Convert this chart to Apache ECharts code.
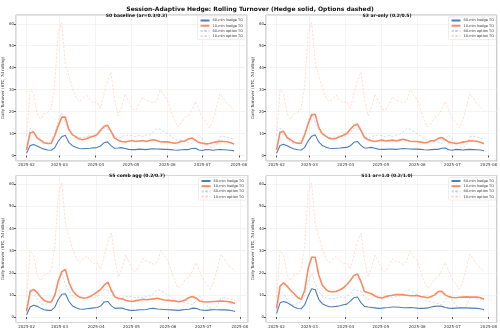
<!DOCTYPE html>
<html>
<head>
<meta charset="utf-8">
<script src="https://cdn.jsdelivr.net/npm/echarts@6/dist/echarts.min.js"></script>
<style>
  html, body { margin: 0; padding: 0; background: #fff; }
  #chart { width: 500px; height: 330px; }
</style>
</head>
<body>
<div id="chart"></div>
<script>
// sampled every 3 days starting 2025-02-01
const DAY = 86400000;
const startDate = Date.UTC(2025, 1, 1);
const dates = Array.from({ length: 60 }, (_, i) => startDate + i * 3 * DAY);

const seriesNames = ["60-min hedge TO", "10-min hedge TO", "60-min option TO", "10-min option TO"];
const panelTitles = ["S0 baseline (ar=0.3/0.3)", "S3 ar-only (0.2/0.5)", "S5 comb agg (0.2/0.7)", "S11 ar=1.0 (0.2/1.0)"];

// options turnover is the same in every panel
const opt60 = [3, 12.5, 10.5, 8, 6, 5.5, 6, 7, 9.5, 16, 19.5, 15, 11.5, 9.5, 8.7, 8.2, 8.3, 8.5, 9.3, 8.5,
  9.3, 10.5, 12.5, 12, 11.5, 9, 7.8, 8.5, 9.2, 9.3, 9, 8.5, 9.2, 8.7, 9.3, 9.5, 10.8, 12.3, 12, 11,
  10, 8.8, 7.5, 7, 6.8, 6.3, 6, 5.5, 7.5, 9.3, 7.5, 5.2, 4, 3.5, 5, 8.5, 8.8, 8.3, 7.8, 7.5];
const opt10 = [9, 30, 28, 19, 16.5, 19, 19.5, 21.5, 32, 56, 60.5, 42, 36.5, 31, 26.5, 24.5, 26, 27.5, 25.5, 24,
  24.5, 21.5, 28, 34, 38, 26, 18, 22, 28, 25, 21, 20.7, 23.5, 26.5, 25, 24.7, 23.8, 25, 30, 27.5,
  25.5, 20.7, 16, 13, 14.6, 17.3, 18.2, 21, 24.5, 20.7, 17, 15, 12.5, 16, 22, 28.3, 26, 23.5, 22.3, 20.5];

// hedge turnover per scenario
const s0h60 = [1, 4.5, 5, 4.3, 3.5, 2.9, 2.5, 2.4, 3.5, 6.5, 8.5, 9.2, 6, 4.5, 3.8, 3.2, 3.1, 3.2, 3.3, 3.5,
  3.6, 4.3, 5.8, 6.2, 4.5, 3.3, 3.4, 3.6, 3.2, 2.8, 2.7, 2.7, 2.9, 2.8, 2.7, 2.9, 3.1, 3, 2.9, 2.8,
  2.8, 2.7, 2.5, 2.4, 2.6, 2.7, 2.7, 3.2, 3.3, 2.5, 2.3, 2.7, 2.6, 2.4, 2.6, 2.7, 2.6, 2.5, 2.4, 2.1];
const s0h10 = [2.5, 10.3, 10.8, 8, 7, 5.8, 5.5, 5.5, 9, 13.5, 17.5, 17.5, 12, 9.5, 8.5, 7.5, 7.2, 7.6, 8.3, 8.8,
  9.5, 11.5, 13.2, 13.8, 11, 8, 7, 6.4, 6.2, 6.5, 6.8, 6.4, 6.6, 6.8, 6.4, 6.8, 7.2, 6.8, 6.3, 6.2,
  6.2, 5.9, 5.6, 5.8, 6.5, 6.6, 7.5, 8, 7, 5.9, 5.6, 5.3, 5.5, 5.9, 6.2, 6.5, 6.4, 6.3, 5.8, 5.2];
const s3h60 = [1, 4.6, 5.1, 4.4, 3.6, 3, 2.6, 2.5, 3.6, 6.7, 8.8, 9.4, 6.2, 4.6, 3.9, 3.3, 3.2, 3.3, 3.4, 3.6,
  3.7, 4.4, 6, 6.4, 4.6, 3.4, 3.5, 3.7, 3.3, 2.9, 2.8, 2.8, 3, 2.9, 2.8, 3, 3.2, 3.1, 3, 2.9,
  2.9, 2.8, 2.6, 2.5, 2.7, 2.8, 2.8, 3.3, 3.4, 2.6, 2.4, 2.8, 2.7, 2.5, 2.7, 2.8, 2.7, 2.6, 2.5, 2.2];
const s3h10 = [2.5, 10.5, 11, 8.2, 7.2, 6, 5.6, 5.6, 9.5, 14.5, 18.5, 18.8, 12.8, 10, 8.8, 7.8, 7.5, 7.9, 8.6, 9.2,
  10, 12, 13.7, 14.3, 11.4, 8.2, 7.3, 6.7, 6.4, 6.7, 7, 6.6, 6.8, 7, 6.6, 7, 7.4, 7, 6.5, 6.4,
  6.4, 6.1, 5.8, 6, 6.7, 6.8, 7.8, 8.2, 7.2, 6.1, 5.8, 5.5, 5.7, 6.1, 6.4, 6.7, 6.6, 6.5, 6, 5.4];
const s5h60 = [1, 4.5, 5.3, 4.8, 4, 3.3, 3, 3, 4.5, 8, 10.3, 10.5, 7, 5, 4.2, 3.6, 3.5, 3.7, 3.9, 4.1,
  4.3, 5, 6.8, 7, 5, 3.9, 4, 4, 3.5, 3.1, 3, 3.1, 3.3, 3.3, 3.4, 3.8, 3.9, 3.6, 3.5, 3.4,
  3.3, 3.2, 3.1, 3, 3.2, 3.4, 3.5, 4, 3.9, 3.3, 3.1, 3, 3.2, 3.3, 3.3, 3.2, 3.2, 3.1, 2.9, 2.5];
const s5h10 = [2.5, 11.5, 12.5, 11, 9, 7.5, 6.8, 6.8, 10, 16.5, 20.5, 21.5, 15.5, 12, 10, 9, 8.6, 8.7, 9.3, 10.2,
  11.3, 12.5, 14.5, 15.8, 12, 9, 8.5, 8.2, 7.6, 7.2, 7, 7.4, 7.7, 8, 7.8, 8, 8.2, 8.5, 8, 7.7,
  7.6, 7.4, 7.2, 6.9, 7.2, 7.8, 8.8, 9.3, 8.5, 7.2, 6.9, 6.8, 6.9, 7, 7.1, 7.2, 7.1, 7, 6.6, 6.1];
const s11h60 = [1.5, 6.4, 7, 6.5, 5.5, 4.5, 3.8, 3.7, 5.5, 9.5, 12.8, 12.3, 8, 6, 5.2, 4.6, 4.6, 4.8, 5.1, 5.5,
  5.8, 7.2, 8.7, 9, 6.5, 4.8, 4.5, 4.3, 4.1, 3.9, 4, 4.2, 4.3, 4.5, 4.5, 4.4, 4.2, 4.2, 4.3, 4.2,
  4, 3.9, 3.9, 4.1, 4.5, 4.8, 5, 4.8, 4.3, 4, 3.9, 4, 4.1, 4.2, 4.1, 4, 4, 3.9, 3.7, 3.3];
const s11h10 = [4, 14, 15.4, 14, 12, 10.5, 8.8, 8, 12, 22, 27, 27, 19, 14.5, 12.5, 11.5, 11.4, 11.6, 12.2, 13.2,
  14.7, 16.5, 18.8, 19.5, 16, 11.5, 11, 10.5, 9.5, 8.8, 8.6, 9.2, 9.6, 9.8, 10.2, 10.1, 10, 9.8, 9.6, 9.6,
  9.7, 9.3, 9, 8.7, 9.3, 10, 11.5, 11.6, 10, 9.2, 8.8, 8.7, 8.9, 9, 9.1, 9, 9, 9, 8.7, 8];

const hedge60 = [s0h60, s3h60, s5h60, s11h60];
const hedge10 = [s0h10, s3h10, s5h10, s11h10];

const colors = ["#4a80b8", "#f98b63", "rgba(74,128,184,0.28)", "rgba(249,139,99,0.3)"];

// panel boxes [left, top, width, height]
const boxes = [
  [16, 15, 231, 146],
  [266, 15, 232, 146],
  [16, 175.5, 232, 147],
  [266, 175.5, 232, 147]
];

function pairs(vals) {
  return vals.map((v, i) => [dates[i], v]);
}

function monthLabel(v) {
  const d = new Date(v);
  return d.getUTCFullYear() + "-" + String(d.getUTCMonth() + 1).padStart(2, "0");
}

const grid = [], xAxis = [], yAxis = [], series = [], legend = [];
const title = [{
  text: "Session-Adaptive Hedge: Rolling Turnover (Hedge solid, Options dashed)",
  left: "center", top: 1,
  textStyle: { fontSize: 6, fontWeight: "bold", color: "#111" }
}];

boxes.forEach((b, p) => {
  grid.push({ left: b[0], top: b[1], width: b[2], height: b[3], show: true,
    borderColor: "#b5b5b5", borderWidth: 1, backgroundColor: "#fff" });
  title.push({
    text: panelTitles[p],
    left: b[0] + b[2] / 2, top: b[1] - 7, textAlign: "center",
    textStyle: { fontSize: 4.5, fontWeight: "bold", color: "#111" }
  });
  xAxis.push({
    type: "time", gridIndex: p,
    min: Date.UTC(2025, 0, 23), max: Date.UTC(2025, 7, 8),
    minInterval: 28 * DAY, maxInterval: 31 * DAY,
    axisLine: { show: false },
    axisTick: { show: true, length: 2, lineStyle: { color: "#555" } },
    axisLabel: { fontSize: 4, color: "#333", margin: 2, formatter: monthLabel,
      showMinLabel: false, showMaxLabel: false, hideOverlap: false },
    splitLine: { show: true, lineStyle: { color: "#ececec", width: 0.6 } }
  });
  yAxis.push({
    type: "value", gridIndex: p, min: -2.5, max: 64, splitNumber: 6,
    name: "Daily Turnover (BTC, 7d rolling)", nameLocation: "middle", nameGap: 9,
    nameTextStyle: { fontSize: 4, color: "#333" },
    axisLine: { show: false },
    axisTick: { show: true, length: 2, lineStyle: { color: "#555" } },
    axisLabel: { fontSize: 4, color: "#333", margin: 2, showMinLabel: false, showMaxLabel: false },
    splitLine: { show: true, lineStyle: { color: "#ececec", width: 0.6 } }
  });
  const lists = [hedge60[p], hedge10[p], opt60, opt10];
  const widths = [1.1, 1.6, 0.9, 0.9];
  lists.forEach((vals, k) => {
    series.push({
      type: "line", name: seriesNames[k], xAxisIndex: p, yAxisIndex: p,
      data: pairs(vals), showSymbol: false, symbol: "none", smooth: false,
      z: k < 2 ? 3 : 2,
      lineStyle: { color: colors[k], width: widths[k], type: k < 2 ? "solid" : [2.5, 1.5] },
      itemStyle: { color: colors[k] }
    });
  });
  legend.push({
    data: seriesNames, orient: "vertical",
    right: 500 - (b[0] + b[2]) + 2, top: b[1] + 2,
    itemWidth: 9, itemHeight: 2, itemGap: 1.2,
    padding: [1.5, 2], backgroundColor: "rgba(255,255,255,0.85)",
    borderColor: "#ddd", borderWidth: 0.5, borderRadius: 1,
    textStyle: { fontSize: 3.5, color: "#333", padding: [0, 0, 0, -2] },
    selectedMode: false
  });
});

const chart = echarts.init(document.getElementById("chart"), null, { renderer: "canvas" });
chart.setOption({
  animation: false,
  useUTC: true,
  backgroundColor: "#fff",
  textStyle: { fontFamily: "DejaVu Sans" },
  title: title,
  legend: legend,
  grid: grid,
  xAxis: xAxis,
  yAxis: yAxis,
  series: series
});
</script>
</body>
</html>
